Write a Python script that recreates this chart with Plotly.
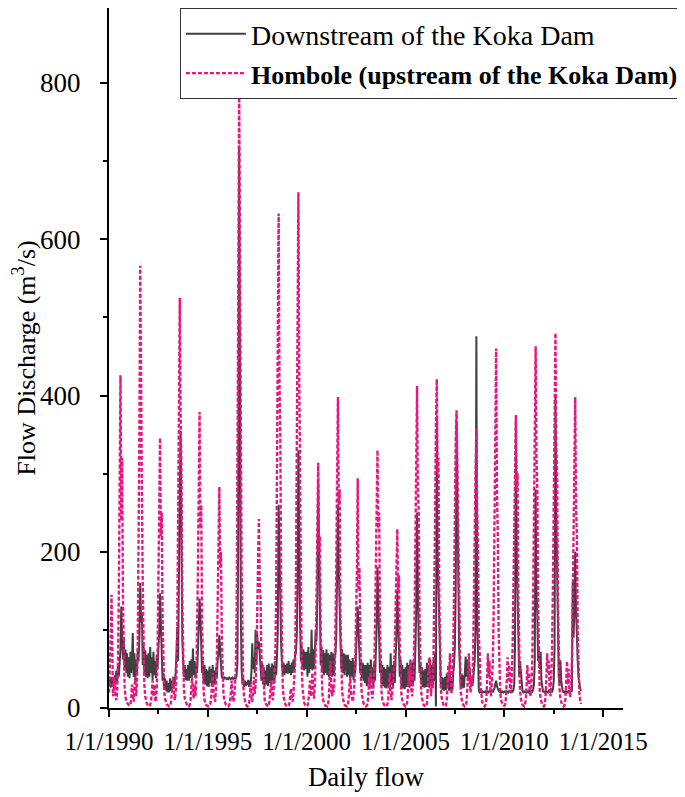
import plotly.graph_objects as go

# semi-monthly readings (1st and 16th of each month)
years = list(range(1990, 2014))

# Downstream of the Koka Dam
down_1990 = [30, 38, 26, 40, 28, 35, 25, 42, 30, 48, 33, 55, 40, 60, 75, 130, 85, 62, 90, 50, 75, 45, 70, 40]
down_1991 = [65, 38, 72, 45, 60, 96, 40, 70, 35, 62, 45, 75, 60, 90, 160, 110, 120, 55, 80, 45, 74, 40, 68, 38]
down_1992 = [70, 40, 78, 45, 65, 35, 72, 42, 60, 38, 68, 50, 75, 95, 147, 110, 60, 35, 45, 25, 38, 22, 35, 20]
down_1993 = [32, 20, 38, 22, 35, 25, 40, 26, 34, 45, 70, 104, 60, 200, 280, 355, 150, 90, 60, 40, 55, 36, 50, 35]
down_1994 = [55, 35, 60, 38, 62, 40, 76, 42, 60, 38, 58, 45, 70, 95, 140, 120, 85, 45, 60, 32, 55, 30, 50, 28]
down_1995 = [48, 27, 53, 32, 50, 28, 55, 30, 48, 30, 52, 38, 60, 70, 93, 80, 55, 40, 38, 40, 37, 39, 38, 37]
down_1996 = [38, 37, 39, 38, 37, 38, 39, 37, 38, 39, 38, 42, 60, 240, 720, 300, 120, 50, 30, 38, 27, 35, 28, 33]
down_1997 = [30, 36, 27, 35, 30, 45, 83, 50, 65, 45, 100, 55, 95, 75, 85, 70, 55, 35, 57, 30, 52, 28, 48, 30]
down_1998 = [55, 28, 57, 32, 52, 28, 57, 35, 55, 32, 60, 42, 65, 100, 260, 180, 150, 80, 57, 44, 58, 42, 55, 45]
down_1999 = [57, 44, 60, 45, 55, 42, 58, 45, 62, 48, 68, 70, 90, 150, 330, 200, 110, 60, 80, 50, 75, 48, 72, 50]
down_2000 = [72, 40, 78, 45, 70, 50, 100, 48, 75, 50, 80, 100, 85, 140, 290, 180, 95, 55, 78, 45, 74, 42, 70, 45]
down_2001 = [75, 42, 70, 40, 68, 45, 72, 40, 70, 42, 65, 70, 90, 150, 260, 180, 100, 87, 50, 75, 45, 70, 42, 68]
down_2002 = [66, 40, 68, 42, 62, 38, 60, 40, 64, 36, 58, 45, 70, 90, 130, 100, 75, 45, 62, 38, 58, 35, 55, 32]
down_2003 = [55, 28, 58, 30, 55, 25, 62, 32, 52, 28, 58, 35, 70, 100, 180, 140, 80, 45, 60, 30, 55, 28, 52, 26]
down_2004 = [50, 25, 55, 28, 52, 23, 70, 30, 55, 26, 60, 32, 65, 90, 150, 110, 70, 40, 62, 28, 55, 25, 50, 24]
down_2005 = [52, 27, 58, 30, 55, 26, 62, 32, 58, 28, 62, 35, 75, 120, 250, 150, 80, 45, 58, 30, 52, 27, 48, 26]
down_2006 = [50, 27, 58, 28, 52, 26, 62, 30, 55, 27, 60, 35, 70, 2, 370, 200, 150, 90, 44, 25, 40, 23, 38, 22]
down_2007 = [40, 23, 44, 25, 42, 22, 44, 24, 40, 23, 45, 55, 80, 150, 365, 300, 180, 80, 45, 28, 44, 25, 42, 26]
down_2008 = [45, 66, 40, 62, 35, 58, 48, 30, 40, 28, 35, 45, 60, 100, 476, 120, 40, 22, 20, 21, 20, 22, 20, 21]
down_2009 = [21, 20, 22, 20, 21, 20, 22, 21, 20, 22, 21, 23, 25, 30, 35, 28, 24, 22, 21, 20, 22, 20, 21, 20]
down_2010 = [21, 20, 22, 20, 21, 20, 22, 21, 20, 22, 21, 23, 30, 80, 365, 200, 150, 66, 40, 60, 45, 30, 22, 20]
down_2011 = [21, 20, 22, 20, 21, 20, 22, 21, 20, 22, 21, 24, 30, 60, 280, 150, 120, 60, 74, 50, 72, 35, 22, 21]
down_2012 = [21, 20, 22, 20, 21, 20, 22, 21, 20, 22, 21, 24, 35, 80, 400, 250, 150, 60, 40, 30, 61, 35, 22, 20]
down_2013 = [21, 20, 22, 20, 21, 20, 22, 21, 20, 22, 21, 161, 90, 120, 200, 130, 70, 60, 40, 30, 25, 22, None, None]

# Hombole (upstream of the Koka Dam)
hom_1990 = [20, 45, 90, 145, 35, 15, 25, 40, 18, 10, 22, 60, 140, 290, 426, 240, 320, 140, 60, 28, 14, 9, 7, 5]
hom_1991 = [4, 3, 5, 12, 30, 18, 8, 25, 40, 15, 30, 80, 180, 350, 566, 330, 280, 160, 70, 30, 15, 9, 6, 4]
hom_1992 = [3, 2, 4, 8, 20, 35, 15, 30, 12, 8, 25, 70, 160, 260, 346, 220, 250, 120, 50, 22, 12, 8, 5, 4]
hom_1993 = [3, 2, 3, 6, 15, 28, 40, 18, 10, 20, 45, 110, 230, 420, 525, 380, 300, 140, 55, 25, 12, 8, 5, 3]
hom_1994 = [3, 2, 4, 10, 25, 40, 20, 12, 30, 15, 35, 90, 170, 275, 379, 230, 260, 110, 45, 20, 10, 6, 4, 3]
hom_1995 = [2, 2, 3, 5, 12, 30, 45, 20, 10, 8, 25, 60, 130, 220, 283, 180, 200, 90, 40, 18, 10, 6, 4, 3]
hom_1996 = [2, 2, 4, 8, 20, 35, 15, 8, 12, 25, 50, 120, 260, 520, 805, 500, 380, 180, 70, 30, 14, 8, 5, 3]
hom_1997 = [2, 3, 6, 15, 30, 12, 8, 20, 40, 18, 30, 60, 120, 190, 242, 160, 140, 70, 40, 55, 25, 10, 6, 4]
hom_1998 = [3, 2, 4, 10, 22, 35, 15, 10, 25, 40, 70, 140, 300, 500, 633, 420, 350, 160, 65, 28, 14, 8, 5, 3]
hom_1999 = [2, 2, 3, 6, 15, 25, 12, 8, 18, 35, 60, 150, 320, 540, 660, 430, 300, 140, 55, 25, 12, 7, 4, 3]
hom_2000 = [2, 3, 8, 20, 35, 15, 30, 45, 20, 12, 30, 70, 140, 230, 314, 200, 220, 100, 45, 20, 10, 6, 4, 3]
hom_2001 = [2, 2, 5, 15, 40, 60, 25, 15, 30, 20, 40, 90, 180, 300, 398, 260, 280, 120, 50, 22, 12, 7, 4, 3]
hom_2002 = [2, 2, 4, 12, 28, 40, 18, 10, 8, 15, 30, 60, 110, 170, 294, 150, 180, 80, 35, 18, 10, 6, 4, 3]
hom_2003 = [2, 3, 6, 18, 40, 25, 50, 20, 12, 25, 45, 100, 200, 270, 330, 230, 250, 110, 45, 20, 10, 6, 4, 3]
hom_2004 = [2, 2, 5, 12, 30, 45, 20, 10, 22, 35, 50, 80, 140, 190, 229, 150, 170, 80, 40, 18, 10, 6, 4, 3]
hom_2005 = [2, 3, 8, 25, 50, 30, 60, 25, 15, 30, 55, 110, 220, 330, 412, 280, 250, 120, 50, 22, 12, 7, 4, 3]
hom_2006 = [2, 2, 6, 20, 45, 65, 30, 15, 35, 25, 60, 130, 250, 360, 421, 300, 320, 140, 55, 24, 12, 7, 4, 3]
hom_2007 = [2, 3, 10, 30, 55, 35, 70, 30, 18, 40, 70, 150, 260, 340, 381, 300, 280, 130, 50, 22, 12, 7, 4, 3]
hom_2008 = [2, 3, 8, 25, 50, 70, 35, 20, 40, 30, 60, 120, 220, 300, 358, 250, 200, 90, 72, 30, 15, 8, 5, 3]
hom_2009 = [2, 4, 12, 35, 70, 40, 60, 25, 15, 35, 60, 120, 230, 350, 460, 280, 220, 100, 45, 20, 10, 6, 4, 3]
hom_2010 = [3, 5, 15, 40, 65, 35, 55, 25, 20, 40, 75, 150, 240, 320, 375, 280, 300, 140, 55, 24, 12, 7, 4, 3]
hom_2011 = [2, 4, 12, 30, 55, 30, 45, 20, 15, 30, 65, 140, 260, 380, 463, 320, 280, 130, 50, 22, 12, 7, 4, 3]
hom_2012 = [2, 4, 15, 40, 70, 45, 60, 25, 15, 40, 80, 160, 300, 420, 480, 340, 300, 140, 55, 24, 12, 7, 4, 3]
hom_2013 = [2, 4, 12, 35, 60, 30, 50, 22, 14, 30, 60, 130, 230, 330, 398, 260, 220, 100, 45, 20, 10, 5, None, None]

x_tick_years = [1990, 1995, 2000, 2005, 2010, 2015]
y_ticks = [0, 200, 400, 600, 800]

dates = [f"{y}-{m:02d}-{d:02d}" for y in years for m in range(1, 13) for d in (1, 16)]
downstream = []
hombole = []
for y in years:
    downstream += globals()[f"down_{y}"]
    hombole += globals()[f"hom_{y}"]

fig = go.Figure()
fig.add_trace(go.Scatter(x=dates, y=downstream, mode="lines", name="Downstream of the Koka Dam",
                         line=dict(color="#404040", width=2)))
fig.add_trace(go.Scatter(x=dates, y=hombole, mode="lines",
                         name="<b><span style='font-size:26px'>Hombole (upstream of the Koka Dam)</span></b>",
                         line=dict(color="#e8177f", width=2.4, dash="4px,2px")))

# page body adds an 8px offset, so the figure is drawn 8px smaller
fig.update_layout(
    width=677, height=789,
    margin=dict(l=101, r=62, t=0, b=89),
    plot_bgcolor="white", paper_bgcolor="white",
    font=dict(family="Liberation Serif", size=24, color="black"),
    showlegend=True,
    legend=dict(x=0.138, y=1, xanchor="left", yanchor="top",
                bgcolor="white", bordercolor="#333333", borderwidth=1,
                font=dict(size=28), itemwidth=60, tracegroupgap=0),
)
fig.update_xaxes(
    type="date", range=["1990-01-01", "2016-01-01"], automargin=False,
    tickvals=[f"{y}-01-01" for y in x_tick_years],
    ticktext=[f"1/1/{y}" for y in x_tick_years], tickangle=0, tickfont=dict(size=25),
    ticks="outside", ticklen=7, tickwidth=2, tickcolor="black",
    showline=True, linewidth=2, linecolor="black", showgrid=False, zeroline=False,
    ticklabelstandoff=3,
    minor=dict(tickvals=[f"{y + 2}-07-02" for y in x_tick_years[:-1]], ticks="outside", ticklen=4, tickwidth=1.5, tickcolor="black"),
    title=dict(text="Daily flow", font=dict(size=27), standoff=13),
)
fig.update_yaxes(
    range=[0, 896], tickvals=y_ticks, automargin=False, tickfont=dict(size=27),
    ticks="outside", ticklen=7, tickwidth=2, tickcolor="black",
    showline=True, linewidth=2, linecolor="black", showgrid=False, zeroline=False,
    ticklabelstandoff=14,
    minor=dict(dtick=100, ticks="outside", ticklen=4, tickwidth=1.5, tickcolor="black"),
    title=dict(text="Flow Discharge (m<sup>3</sup>/s)", font=dict(size=26), standoff=32),
)

fig.write_html("out.html")
